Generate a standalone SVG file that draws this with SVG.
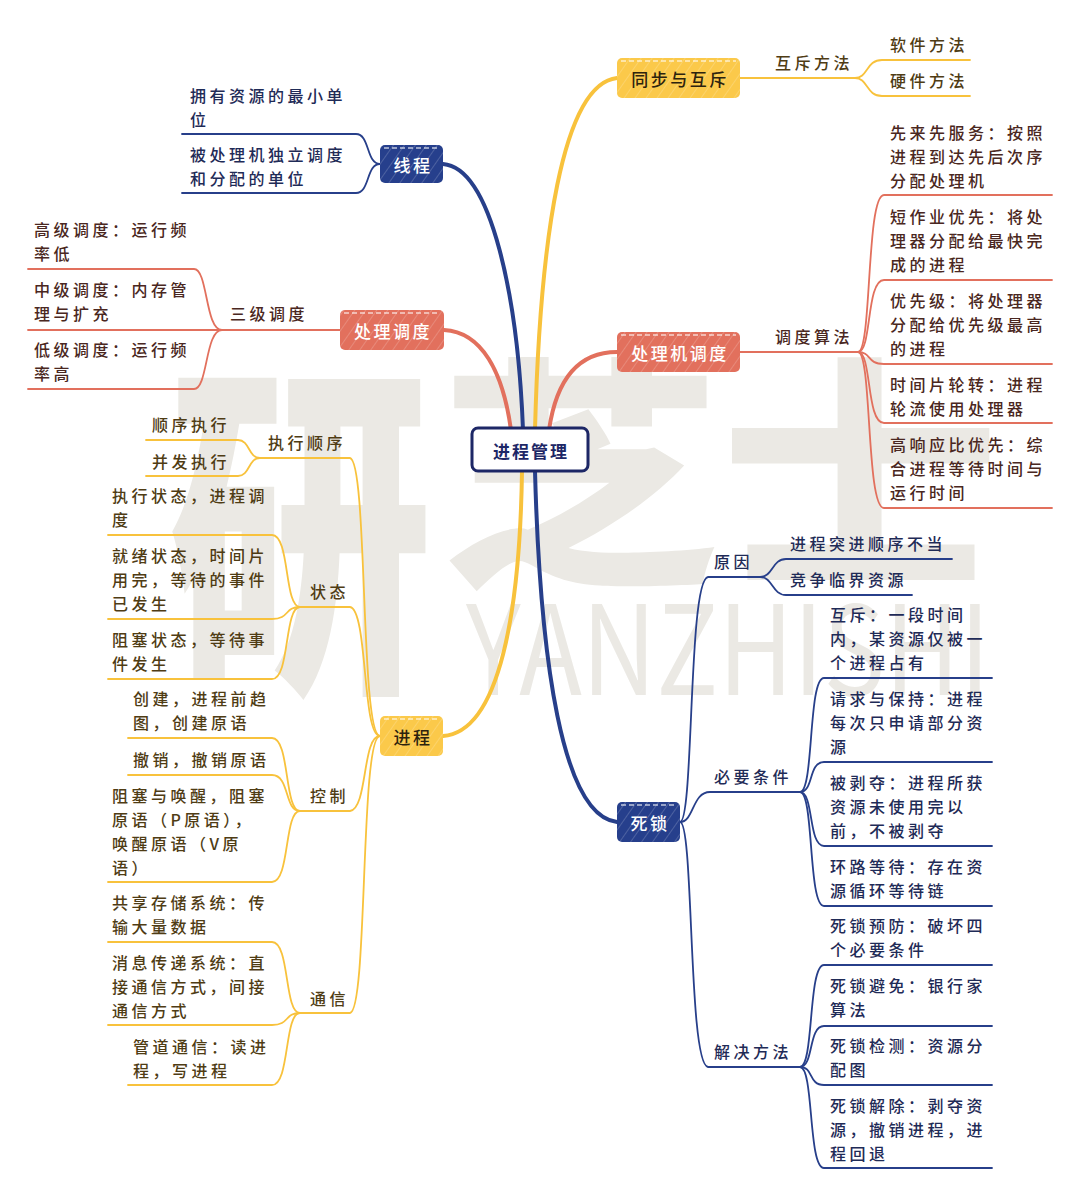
<svg xmlns="http://www.w3.org/2000/svg" width="1080" height="1198" viewBox="0 0 1080 1198">
<style>
text{font-family:"Noto Sans CJK SC","Liberation Sans",sans-serif;dominant-baseline:central}
.lf{font-size:16px;letter-spacing:3.5px;font-weight:500}
.ty{fill:#4f3c14}
.tr{fill:#4a2721}
.tn{fill:#1f2b57}
.nd{font-size:17px;letter-spacing:2.5px;text-anchor:middle;font-weight:500}
.wm{fill:#ebe9e4}
.cy{stroke:#f8c23c;fill:none;stroke-linecap:round}
.cr{stroke:#e2705d;fill:none;stroke-linecap:round}
.cn{stroke:#273f8a;fill:none;stroke-linecap:round}
.main{stroke-width:4}
.sub{stroke-width:1.8}
.hatch{fill:url(#hatch)}
.edge{fill:none;stroke:#fff;stroke-opacity:0.7;stroke-width:1.5;stroke-dasharray:5 3}
</style>
<defs>
<pattern id="hatch" width="9" height="9" patternUnits="userSpaceOnUse" patternTransform="rotate(35)">
<line x1="0" y1="0" x2="0" y2="9" stroke="#ffffff" stroke-opacity="0.28" stroke-width="1.3"/>
</pattern>
</defs>
<rect width="1080" height="1198" fill="#ffffff"/>
<g id="watermark">
<text class="wm" x="168" y="510" font-size="352" font-weight="900" textLength="264" lengthAdjust="spacingAndGlyphs">研</text>
<text class="wm" x="440" y="460" font-size="245" font-weight="900" textLength="560" lengthAdjust="spacingAndGlyphs">芝士</text>
<text class="wm" x="466" y="695" font-size="124" font-family="Liberation Sans, sans-serif" style="dominant-baseline:alphabetic" textLength="524" lengthAdjust="spacingAndGlyphs">YANZHISHI</text>
</g>
<g id="connectors">
<path class="cn main" d="M523,430 C518,300 492,168 443,164"/>
<path class="cy main" d="M535,430 C540,240 562,84 617,78"/>
<path class="cr main" d="M511,430 C503,372 482,332 444,330"/>
<path class="cr main" d="M549,430 C556,382 577,352 617,352"/>
<path class="cy main" d="M522,471 C520,610 500,732 443,736"/>
<path class="cn main" d="M535,471 C540,660 562,816 617,822"/>
<path class="cy sub" d="M740,78 L855,78"/>
<path class="cy sub" d="M855,78 C868,78 866,60 882,60 L970,60"/>
<path class="cy sub" d="M855,78 C868,78 866,96 882,96 L970,96"/>
<path class="cn sub" d="M380,164 C366,164 370,134 356,134 L182,134"/>
<path class="cn sub" d="M380,164 C366,164 370,193 356,193 L182,193"/>
<path class="cr sub" d="M340,330 L222,330"/>
<path class="cr sub" d="M222,330 C205,330 208,269 194,269 L28,269"/>
<path class="cr sub" d="M222,330 L28,330"/>
<path class="cr sub" d="M222,330 C205,330 208,389 194,389 L28,389"/>
<path class="cr sub" d="M740,352 L858,352"/>
<path class="cr sub" d="M858,352 C872,352 866,195 884,195 L1052,195"/>
<path class="cr sub" d="M858,352 C872,352 866,280 884,280 L1052,280"/>
<path class="cr sub" d="M858,352 C872,352 866,364 884,364 L1052,364"/>
<path class="cr sub" d="M858,352 C872,352 866,423 884,423 L1052,423"/>
<path class="cr sub" d="M858,352 C872,352 866,508 884,508 L1052,508"/>
<path class="cy sub" d="M380,736 C360,736 368,462 350,458 L260,458"/>
<path class="cy sub" d="M380,736 C362,736 368,610 350,607 L300,607"/>
<path class="cy sub" d="M380,736 C362,736 368,808 350,811 L300,811"/>
<path class="cy sub" d="M380,736 C360,736 368,1010 350,1013 L300,1013"/>
<path class="cy sub" d="M260,458 C248,458 250,440 238,440 L146,440"/>
<path class="cy sub" d="M260,458 C248,458 250,476 238,476 L146,476"/>
<path class="cy sub" d="M300,607 C284,607 290,535 272,535 L108,535"/>
<path class="cy sub" d="M300,607 C284,607 290,619 272,619 L108,619"/>
<path class="cy sub" d="M300,607 C284,607 290,679 272,679 L108,679"/>
<path class="cy sub" d="M300,811 C284,811 290,738 272,738 L128,738"/>
<path class="cy sub" d="M300,811 C284,811 290,775 272,775 L128,775"/>
<path class="cy sub" d="M300,811 C284,811 290,882 272,882 L108,882"/>
<path class="cy sub" d="M300,1013 C284,1013 290,942 272,942 L108,942"/>
<path class="cy sub" d="M300,1013 C284,1013 290,1025 272,1025 L108,1025"/>
<path class="cy sub" d="M300,1013 C284,1013 290,1085 272,1085 L128,1085"/>
<path class="cn sub" d="M680,822 C694,822 688,580 708,577 L760,577"/>
<path class="cn sub" d="M680,822 C694,822 692,792 710,792 L800,792"/>
<path class="cn sub" d="M680,822 C694,822 688,1064 708,1067 L800,1067"/>
<path class="cn sub" d="M760,577 C773,577 772,559 786,559 L952,559"/>
<path class="cn sub" d="M760,577 C773,577 772,595 786,595 L912,595"/>
<path class="cn sub" d="M800,792 C814,792 808,678 824,678 L992,678"/>
<path class="cn sub" d="M800,792 C814,792 808,762 824,762 L992,762"/>
<path class="cn sub" d="M800,792 C814,792 808,846 824,846 L992,846"/>
<path class="cn sub" d="M800,792 C814,792 808,906 824,906 L992,906"/>
<path class="cn sub" d="M800,1067 C814,1067 808,965 824,965 L992,965"/>
<path class="cn sub" d="M800,1067 C814,1067 808,1026 824,1026 L992,1026"/>
<path class="cn sub" d="M800,1067 C814,1067 808,1085 824,1085 L992,1085"/>
<path class="cn sub" d="M800,1067 C814,1067 808,1168 824,1168 L992,1168"/>
</g>
<g id="root">
<rect x="472" y="428" width="116" height="43" rx="6" fill="#ffffff" stroke="#1d2766" stroke-width="3"/>
<text x="531" y="450" font-size="17" font-weight="bold" letter-spacing="2" text-anchor="middle" fill="#1d2766">进程管理</text>
</g>
<g id="node-xiancheng">
<rect x="380" y="145" width="63" height="38" rx="5" fill="#263f8c"/>
<rect x="380" y="145" width="63" height="38" rx="5" class="hatch"/>
<path class="edge" d="M384,148 L439,148"/>
<text class="nd" x="413" y="164" fill="#ffffff">线程</text>
</g>
<g id="node-tongbu">
<rect x="617" y="58" width="123" height="40" rx="5" fill="#fbc94a"/>
<rect x="617" y="58" width="123" height="40" rx="5" class="hatch"/>
<path class="edge" d="M621,61 L736,61"/>
<text class="nd" x="680" y="78" fill="#2d230e">同步与互斥</text>
</g>
<g id="node-chuli">
<rect x="340" y="310" width="104" height="40" rx="5" fill="#e2705d"/>
<rect x="340" y="310" width="104" height="40" rx="5" class="hatch"/>
<path class="edge" d="M344,313 L440,313"/>
<text class="nd" x="393" y="330" fill="#ffffff">处理调度</text>
</g>
<g id="node-chulij">
<rect x="617" y="332" width="123" height="40" rx="5" fill="#e2705d"/>
<rect x="617" y="332" width="123" height="40" rx="5" class="hatch"/>
<path class="edge" d="M621,335 L736,335"/>
<text class="nd" x="680" y="352" fill="#ffffff">处理机调度</text>
</g>
<g id="node-jincheng">
<rect x="380" y="716" width="63" height="40" rx="5" fill="#fbc94a"/>
<rect x="380" y="716" width="63" height="40" rx="5" class="hatch"/>
<path class="edge" d="M384,719 L439,719"/>
<text class="nd" x="413" y="736" fill="#2d230e">进程</text>
</g>
<g id="node-sisuo">
<rect x="617" y="802" width="63" height="40" rx="5" fill="#263f8c"/>
<rect x="617" y="802" width="63" height="40" rx="5" class="hatch"/>
<path class="edge" d="M621,805 L676,805"/>
<text class="nd" x="650" y="822" fill="#ffffff">死锁</text>
</g>
<g id="labels-tongbu" class="lf ty">
<text x="775" y="62">互斥方法</text>
<text x="890" y="44">软件方法</text>
<text x="890" y="80">硬件方法</text>
</g>
<g id="labels-xiancheng" class="lf tn">
<text x="190" y="95">拥有资源的最小单</text>
<text x="190" y="119">位</text>
<text x="190" y="154">被处理机独立调度</text>
<text x="190" y="178">和分配的单位</text>
</g>
<g id="labels-chuli" class="lf tr">
<text x="230" y="313">三级调度</text>
<text x="34" y="229">高级调度：运行频</text>
<text x="34" y="253">率低</text>
<text x="34" y="289">中级调度：内存管</text>
<text x="34" y="313">理与扩充</text>
<text x="34" y="349">低级调度：运行频</text>
<text x="34" y="373">率高</text>
</g>
<g id="labels-chulij" class="lf tr">
<text x="775" y="336">调度算法</text>
<text x="890" y="132">先来先服务：按照</text>
<text x="890" y="156">进程到达先后次序</text>
<text x="890" y="180">分配处理机</text>
<text x="890" y="216">短作业优先：将处</text>
<text x="890" y="240">理器分配给最快完</text>
<text x="890" y="264">成的进程</text>
<text x="890" y="300">优先级：将处理器</text>
<text x="890" y="324">分配给优先级最高</text>
<text x="890" y="348">的进程</text>
<text x="890" y="384">时间片轮转：进程</text>
<text x="890" y="408">轮流使用处理器</text>
<text x="890" y="444">高响应比优先：综</text>
<text x="890" y="468">合进程等待时间与</text>
<text x="890" y="492">运行时间</text>
</g>
<g id="labels-jincheng" class="lf ty">
<text x="268" y="442">执行顺序</text>
<text x="310" y="591">状态</text>
<text x="310" y="795">控制</text>
<text x="310" y="998">通信</text>
<text x="152" y="424">顺序执行</text>
<text x="152" y="461">并发执行</text>
<text x="112" y="495">执行状态，进程调</text>
<text x="112" y="519">度</text>
<text x="112" y="555">就绪状态，时间片</text>
<text x="112" y="579">用完，等待的事件</text>
<text x="112" y="603">已发生</text>
<text x="112" y="639">阻塞状态，等待事</text>
<text x="112" y="663">件发生</text>
<text x="133" y="698">创建，进程前趋</text>
<text x="133" y="722">图，创建原语</text>
<text x="133" y="759">撤销，撤销原语</text>
<text x="112" y="795">阻塞与唤醒，阻塞</text>
<text x="112" y="819">原语（P原语），</text>
<text x="112" y="843">唤醒原语（V原</text>
<text x="112" y="867">语）</text>
<text x="112" y="902">共享存储系统：传</text>
<text x="112" y="926">输大量数据</text>
<text x="112" y="962">消息传递系统：直</text>
<text x="112" y="986">接通信方式，间接</text>
<text x="112" y="1010">通信方式</text>
<text x="133" y="1046">管道通信：读进</text>
<text x="133" y="1070">程，写进程</text>
</g>
<g id="labels-sisuo" class="lf tn">
<text x="714" y="561">原因</text>
<text x="714" y="776">必要条件</text>
<text x="714" y="1051">解决方法</text>
<text x="790" y="543">进程突进顺序不当</text>
<text x="790" y="579">竞争临界资源</text>
<text x="830" y="614">互斥：一段时间</text>
<text x="830" y="638">内，某资源仅被一</text>
<text x="830" y="662">个进程占有</text>
<text x="830" y="698">请求与保持：进程</text>
<text x="830" y="722">每次只申请部分资</text>
<text x="830" y="746">源</text>
<text x="830" y="782">被剥夺：进程所获</text>
<text x="830" y="806">资源未使用完以</text>
<text x="830" y="830">前，不被剥夺</text>
<text x="830" y="866">环路等待：存在资</text>
<text x="830" y="890">源循环等待链</text>
<text x="830" y="925">死锁预防：破坏四</text>
<text x="830" y="949">个必要条件</text>
<text x="830" y="985">死锁避免：银行家</text>
<text x="830" y="1009">算法</text>
<text x="830" y="1045">死锁检测：资源分</text>
<text x="830" y="1069">配图</text>
<text x="830" y="1105">死锁解除：剥夺资</text>
<text x="830" y="1129">源，撤销进程，进</text>
<text x="830" y="1153">程回退</text>
</g>
</svg>
